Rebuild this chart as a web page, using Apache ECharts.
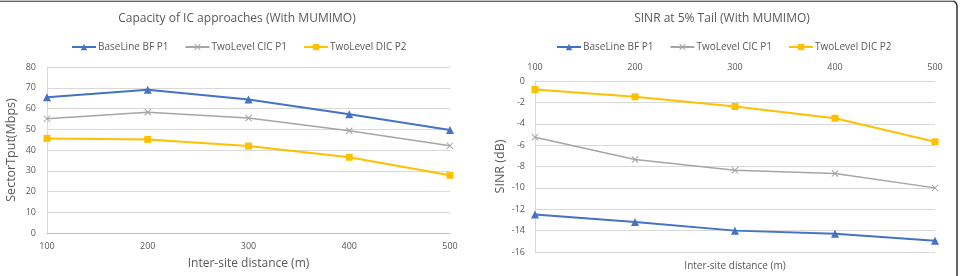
<!DOCTYPE html>
<html><head><meta charset="utf-8">
<script src="https://cdn.jsdelivr.net/npm/echarts@6/dist/echarts.min.js"></script>
<style>html,body{margin:0;padding:0;background:#fff}#c{width:961px;height:276px}</style>
</head><body><div id="c"></div>
<script>
const distances = ['100','200','300','400','500'];
const seriesNames = ['BaseLine BF P1','TwoLevel CIC P1','TwoLevel DIC P2'];
const capBaseline = [65.4, 69.0, 64.3, 57.2, 49.6];
const capCIC = [55.1, 58.2, 55.4, 49.3, 42.1];
const capDIC = [45.6, 45.1, 41.9, 36.5, 27.8];
const sinrBaseline = [-12.5, -13.2, -14.0, -14.3, -14.95];
const sinrCIC = [-5.26, -7.35, -8.35, -8.65, -10.0];
const sinrDIC = [-0.79, -1.48, -2.39, -3.48, -5.69];

const colors = ['#4472C4','#A5A5A5','#FFC000'];
const xSym = 'path://M0,1L1,0L5,4L9,0L10,1L6,5L10,9L9,10L5,6L1,10L0,9L4,5Z';
const symbols = ['triangle', xSym, 'rect'];
const symSizes = [8, 7, 7];
const FONT = '"Open Sans", "Noto Sans", sans-serif';
const txt = '#595959';

function mk(name, data, i, xi, yi) {
  return {
    name: name, type: 'line', data: data, xAxisIndex: xi, yAxisIndex: yi,
    symbol: symbols[i], symbolSize: symSizes[i], showSymbol: true,
    lineStyle: {color: colors[i], width: i === 1 ? 1.5 : 2},
    itemStyle: {color: colors[i]}, animation: false, z: 3 + (2 - i)
  };
}

const chart = echarts.init(document.getElementById('c'), null, {renderer: 'canvas'});
const legendBase = {
  data: seriesNames, top: 37, itemWidth: 24, itemHeight: 8, itemGap: 16,
  textStyle: {fontSize: 10, color: txt, fontFamily: FONT, padding: [0, 0, 0, -3]},
  selectedMode: false
};
chart.setOption({
  animation: false,
  textStyle: {fontFamily: FONT},
  title: [
    {text: 'Capacity of IC approaches (With MUMIMO)', left: 232, top: 8, textAlign: 'center',
     textStyle: {fontSize: 12, fontWeight: 'normal', color: txt, fontFamily: FONT}},
    {text: 'SINR at 5% Tail (With MUMIMO)', left: 717, top: 8, textAlign: 'center',
     textStyle: {fontSize: 12, fontWeight: 'normal', color: txt, fontFamily: FONT}}
  ],
  legend: [
    Object.assign({}, legendBase, {left: 66}),
    Object.assign({}, legendBase, {left: 551})
  ],
  grid: [
    {left: 47, right: 511, top: 67, bottom: 43},
    {left: 535, right: 26, top: 81, bottom: 19}
  ],
  xAxis: [
    {type: 'category', data: distances, gridIndex: 0, boundaryGap: false,
     name: 'Inter-site distance (m)', nameLocation: 'middle', nameGap: 25,
     nameTextStyle: {fontSize: 12, color: txt, fontFamily: FONT},
     axisLine: {lineStyle: {color: '#BFBFBF'}}, axisTick: {show: false},
     axisLabel: {fontSize: 9, color: txt, margin: 9, fontFamily: FONT}},
    {type: 'category', data: distances, gridIndex: 1, boundaryGap: false, position: 'top',
     axisLine: {show: false}, axisTick: {show: false},
     axisLabel: {fontSize: 9, color: txt, margin: 9, fontFamily: FONT}},
    {type: 'category', data: distances, gridIndex: 1, boundaryGap: false, position: 'bottom',
     name: 'Inter-site distance (m)', nameLocation: 'middle', nameGap: 9,
     nameTextStyle: {fontSize: 10, color: txt, fontFamily: FONT},
     axisLine: {show: false}, axisTick: {show: false}, axisLabel: {show: false}}
  ],
  yAxis: [
    {type: 'value', gridIndex: 0, min: 0, max: 80, interval: 10,
     name: 'SectorTput(Mbps)', nameLocation: 'middle', nameGap: 29,
     nameTextStyle: {fontSize: 12.5, color: txt, fontFamily: FONT},
     axisLine: {show: true, lineStyle: {color: '#D9D9D9'}}, axisTick: {show: false},
     axisLabel: {fontSize: 9, color: txt, margin: 11, fontFamily: FONT},
     splitLine: {lineStyle: {color: '#D9D9D9'}}},
    {type: 'value', gridIndex: 1, min: -16, max: 0, interval: 2,
     name: 'SINR (dB)', nameLocation: 'middle', nameGap: 28,
     nameTextStyle: {fontSize: 12.5, color: txt, fontFamily: FONT},
     axisLine: {show: true, lineStyle: {color: '#D9D9D9'}}, axisTick: {show: false},
     axisLabel: {fontSize: 9, color: txt, margin: 10, fontFamily: FONT},
     splitLine: {lineStyle: {color: '#D9D9D9'}}}
  ],
  series: [
    mk(seriesNames[0], capBaseline, 0, 0, 0),
    mk(seriesNames[1], capCIC, 1, 0, 0),
    mk(seriesNames[2], capDIC, 2, 0, 0),
    mk(seriesNames[0], sinrBaseline, 0, 1, 1),
    mk(seriesNames[1], sinrCIC, 1, 1, 1),
    mk(seriesNames[2], sinrDIC, 2, 1, 1)
  ],
  graphic: [
    {type: 'rect', shape: {x: -5, y: 0, width: 960, height: 1}, style: {fill: '#C8C8C8'}, silent: true},
    {type: 'rect', shape: {x: 0, y: 0, width: 959, height: 300, r: [0, 5, 0, 0]},
     style: {fill: 'none', stroke: '#333', lineWidth: 1.5}, silent: true, z: -1,
     position: [-2, 1]}
  ]
});
</script></body></html>
